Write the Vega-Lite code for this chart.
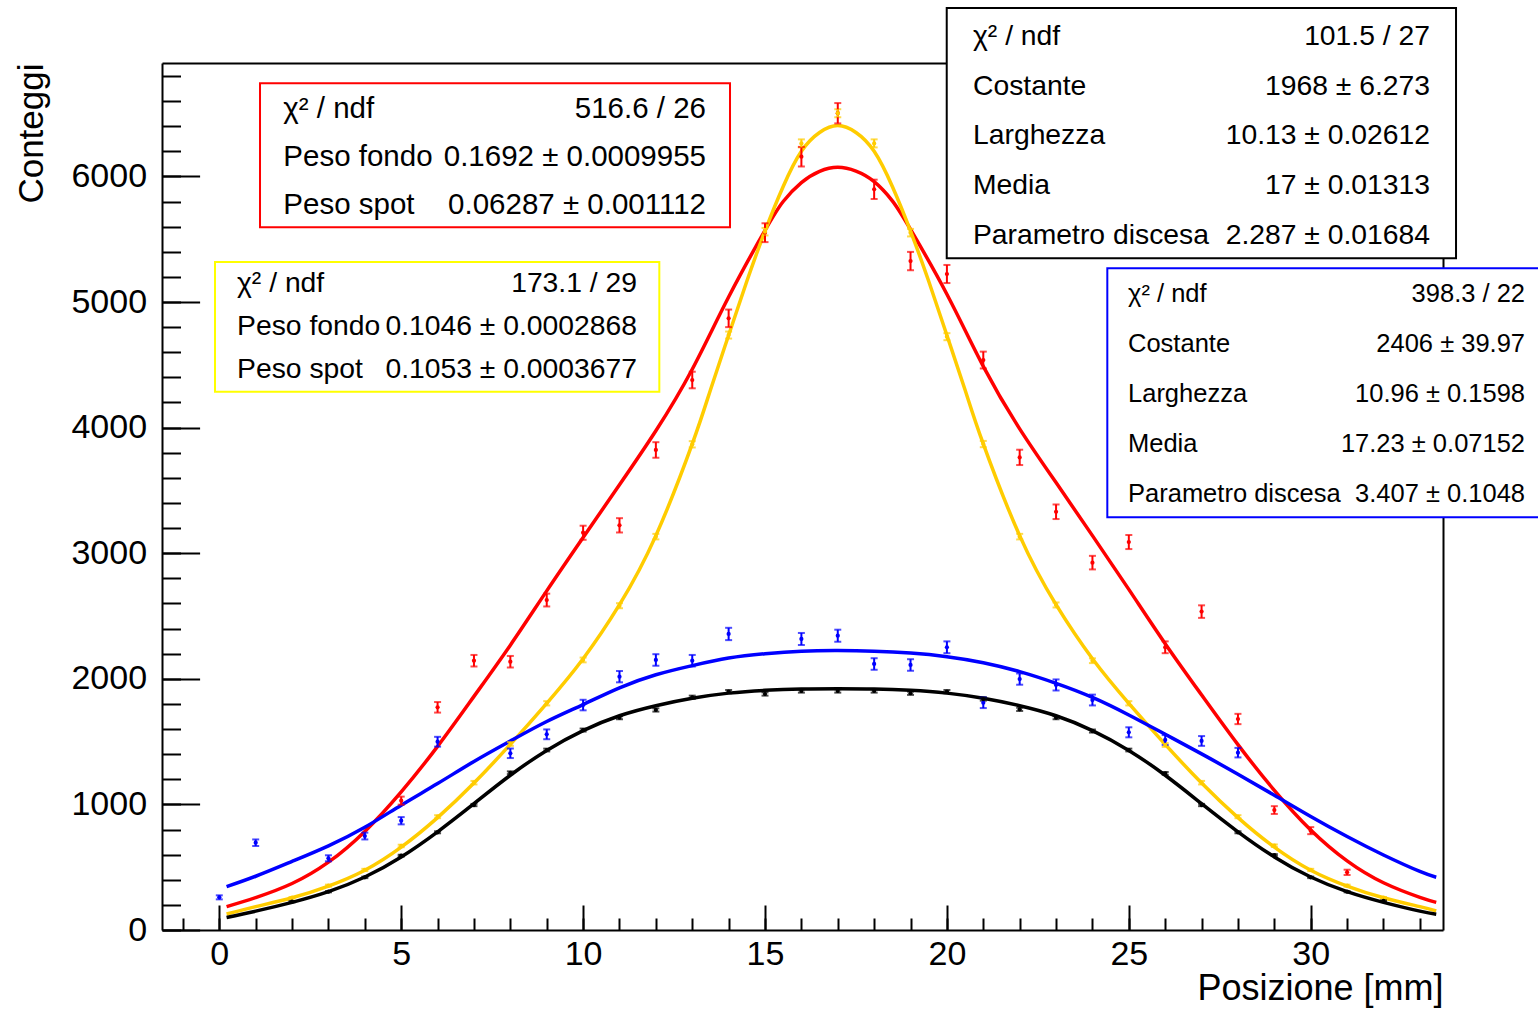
{
  "$schema": "https://vega.github.io/schema/vega-lite/v6.json",
  "width": 1281,
  "height": 867,
  "autosize": {"type": "none"},
  "padding": {"left": 162, "top": 63, "right": 95, "bottom": 79},
  "background": "white",
  "config": {
    "view": {"stroke": null},
    "font": "Liberation Sans",
    "axis": {"labelFont": "Liberation Sans", "titleFont": "Liberation Sans", "labelColor": "black", "titleColor": "black", "tickColor": "black", "domainColor": "black", "grid": false, "zindex": 0}
  },
  "datasets": {
    "fit": [
      {"s":"rosso","x":0.2,"y":186},{"s":"rosso","x":1,"y":258},{"s":"rosso","x":2,"y":370},{"s":"rosso","x":3,"y":540},{"s":"rosso","x":4,"y":785},{"s":"rosso","x":5,"y":1100},{"s":"rosso","x":6,"y":1462},{"s":"rosso","x":7,"y":1860},{"s":"rosso","x":8,"y":2268},{"s":"rosso","x":9,"y":2700},{"s":"rosso","x":10,"y":3125},{"s":"rosso","x":11,"y":3545},{"s":"rosso","x":12,"y":3975},{"s":"rosso","x":13,"y":4465},{"s":"rosso","x":14,"y":5040},{"s":"rosso","x":15,"y":5570},{"s":"rosso","x":15.5,"y":5800},{"s":"rosso","x":16,"y":5950},{"s":"rosso","x":16.5,"y":6040},{"s":"rosso","x":17,"y":6072},{"s":"rosso","x":17.5,"y":6042},{"s":"rosso","x":18,"y":5958},{"s":"rosso","x":18.5,"y":5805},{"s":"rosso","x":19,"y":5578},{"s":"rosso","x":20,"y":5062},{"s":"rosso","x":21,"y":4488},{"s":"rosso","x":22,"y":3990},{"s":"rosso","x":23,"y":3562},{"s":"rosso","x":24,"y":3140},{"s":"rosso","x":25,"y":2712},{"s":"rosso","x":26,"y":2280},{"s":"rosso","x":27,"y":1872},{"s":"rosso","x":28,"y":1476},{"s":"rosso","x":29,"y":1112},{"s":"rosso","x":30,"y":796},{"s":"rosso","x":31,"y":550},{"s":"rosso","x":32,"y":376},{"s":"rosso","x":33,"y":260},{"s":"rosso","x":33.45,"y":220},
      {"s":"giallo","x":0.2,"y":127},{"s":"giallo","x":1,"y":186},{"s":"giallo","x":2,"y":257},{"s":"giallo","x":3,"y":350},{"s":"giallo","x":4,"y":476},{"s":"giallo","x":5,"y":660},{"s":"giallo","x":6,"y":895},{"s":"giallo","x":7,"y":1170},{"s":"giallo","x":8,"y":1478},{"s":"giallo","x":9,"y":1805},{"s":"giallo","x":10,"y":2160},{"s":"giallo","x":11,"y":2590},{"s":"giallo","x":12,"y":3140},{"s":"giallo","x":13,"y":3870},{"s":"giallo","x":13.5,"y":4300},{"s":"giallo","x":14,"y":4735},{"s":"giallo","x":14.5,"y":5165},{"s":"giallo","x":15,"y":5565},{"s":"giallo","x":15.5,"y":5920},{"s":"giallo","x":16,"y":6200},{"s":"giallo","x":16.5,"y":6350},{"s":"giallo","x":17,"y":6405},{"s":"giallo","x":17.5,"y":6350},{"s":"giallo","x":18,"y":6200},{"s":"giallo","x":18.5,"y":5920},{"s":"giallo","x":19,"y":5565},{"s":"giallo","x":19.5,"y":5165},{"s":"giallo","x":20,"y":4735},{"s":"giallo","x":20.5,"y":4300},{"s":"giallo","x":21,"y":3870},{"s":"giallo","x":22,"y":3140},{"s":"giallo","x":23,"y":2590},{"s":"giallo","x":24,"y":2160},{"s":"giallo","x":25,"y":1805},{"s":"giallo","x":26,"y":1478},{"s":"giallo","x":27,"y":1170},{"s":"giallo","x":28,"y":895},{"s":"giallo","x":29,"y":660},{"s":"giallo","x":30,"y":476},{"s":"giallo","x":31,"y":350},{"s":"giallo","x":32,"y":257},{"s":"giallo","x":33,"y":186},{"s":"giallo","x":33.45,"y":152},
      {"s":"blu","x":0.2,"y":345},{"s":"blu","x":1,"y":428},{"s":"blu","x":2,"y":546},{"s":"blu","x":3,"y":670},{"s":"blu","x":4,"y":818},{"s":"blu","x":5,"y":994},{"s":"blu","x":6,"y":1166},{"s":"blu","x":7,"y":1342},{"s":"blu","x":8,"y":1505},{"s":"blu","x":9,"y":1660},{"s":"blu","x":10,"y":1795},{"s":"blu","x":11,"y":1928},{"s":"blu","x":12,"y":2032},{"s":"blu","x":13,"y":2105},{"s":"blu","x":14,"y":2165},{"s":"blu","x":15,"y":2200},{"s":"blu","x":16,"y":2220},{"s":"blu","x":17,"y":2225},{"s":"blu","x":18,"y":2220},{"s":"blu","x":19,"y":2205},{"s":"blu","x":20,"y":2176},{"s":"blu","x":21,"y":2128},{"s":"blu","x":22,"y":2057},{"s":"blu","x":23,"y":1964},{"s":"blu","x":24,"y":1852},{"s":"blu","x":25,"y":1712},{"s":"blu","x":26,"y":1558},{"s":"blu","x":27,"y":1402},{"s":"blu","x":28,"y":1240},{"s":"blu","x":29,"y":1073},{"s":"blu","x":30,"y":904},{"s":"blu","x":31,"y":744},{"s":"blu","x":32,"y":597},{"s":"blu","x":33,"y":466},{"s":"blu","x":33.45,"y":420},
      {"s":"nero","x":0.2,"y":100},{"s":"nero","x":1,"y":150},{"s":"nero","x":2,"y":220},{"s":"nero","x":3,"y":305},{"s":"nero","x":4,"y":422},{"s":"nero","x":5,"y":582},{"s":"nero","x":6,"y":782},{"s":"nero","x":7,"y":1006},{"s":"nero","x":8,"y":1232},{"s":"nero","x":9,"y":1430},{"s":"nero","x":10,"y":1588},{"s":"nero","x":11,"y":1706},{"s":"nero","x":12,"y":1786},{"s":"nero","x":13,"y":1845},{"s":"nero","x":14,"y":1886},{"s":"nero","x":15,"y":1908},{"s":"nero","x":16,"y":1918},{"s":"nero","x":17,"y":1920},{"s":"nero","x":18,"y":1918},{"s":"nero","x":19,"y":1908},{"s":"nero","x":20,"y":1886},{"s":"nero","x":21,"y":1845},{"s":"nero","x":22,"y":1786},{"s":"nero","x":23,"y":1706},{"s":"nero","x":24,"y":1588},{"s":"nero","x":25,"y":1430},{"s":"nero","x":26,"y":1232},{"s":"nero","x":27,"y":1006},{"s":"nero","x":28,"y":782},{"s":"nero","x":29,"y":582},{"s":"nero","x":30,"y":422},{"s":"nero","x":31,"y":305},{"s":"nero","x":32,"y":220},{"s":"nero","x":33,"y":150},{"s":"nero","x":33.45,"y":126}
    ],
    "pts": [
      {"s":"rosso","x":5,"y":1030,"e":32},{"s":"rosso","x":6,"y":1773,"e":42},{"s":"rosso","x":7,"y":2144,"e":46},{"s":"rosso","x":8,"y":2136,"e":46},{"s":"rosso","x":9,"y":2627,"e":51},{"s":"rosso","x":10,"y":3163,"e":56},{"s":"rosso","x":11,"y":3222,"e":57},{"s":"rosso","x":12,"y":3822,"e":62},{"s":"rosso","x":13,"y":4379,"e":66},{"s":"rosso","x":14,"y":4870,"e":70},{"s":"rosso","x":15,"y":5552,"e":75},{"s":"rosso","x":16,"y":6157,"e":78},{"s":"rosso","x":17,"y":6503,"e":81},{"s":"rosso","x":18,"y":5897,"e":77},{"s":"rosso","x":19,"y":5326,"e":73},{"s":"rosso","x":20,"y":5223,"e":72},{"s":"rosso","x":21,"y":4538,"e":67},{"s":"rosso","x":22,"y":3763,"e":61},{"s":"rosso","x":23,"y":3330,"e":58},{"s":"rosso","x":24,"y":2925,"e":54},{"s":"rosso","x":25,"y":3089,"e":56},{"s":"rosso","x":26,"y":2251,"e":47},{"s":"rosso","x":27,"y":2535,"e":50},{"s":"rosso","x":28,"y":1680,"e":41},{"s":"rosso","x":29,"y":955,"e":31},{"s":"rosso","x":30,"y":791,"e":28},{"s":"rosso","x":31,"y":459,"e":21},
      {"s":"giallo","x":2,"y":257,"e":6},{"s":"giallo","x":3,"y":353,"e":8},{"s":"giallo","x":4,"y":478,"e":9},{"s":"giallo","x":5,"y":669,"e":10},{"s":"giallo","x":6,"y":902,"e":12},{"s":"giallo","x":7,"y":1173,"e":14},{"s":"giallo","x":8,"y":1481,"e":15},{"s":"giallo","x":9,"y":1805,"e":17},{"s":"giallo","x":10,"y":2150,"e":19},{"s":"giallo","x":11,"y":2582,"e":20},{"s":"giallo","x":12,"y":3132,"e":22},{"s":"giallo","x":13,"y":3867,"e":25},{"s":"giallo","x":14,"y":4737,"e":28},{"s":"giallo","x":15,"y":5560,"e":30},{"s":"giallo","x":16,"y":6263,"e":32},{"s":"giallo","x":17,"y":6503,"e":32},{"s":"giallo","x":18,"y":6263,"e":32},{"s":"giallo","x":19,"y":5552,"e":30},{"s":"giallo","x":20,"y":4724,"e":28},{"s":"giallo","x":21,"y":3869,"e":25},{"s":"giallo","x":22,"y":3132,"e":22},{"s":"giallo","x":23,"y":2588,"e":20},{"s":"giallo","x":24,"y":2144,"e":19},{"s":"giallo","x":25,"y":1805,"e":17},{"s":"giallo","x":26,"y":1473,"e":15},{"s":"giallo","x":27,"y":1173,"e":14},{"s":"giallo","x":28,"y":902,"e":12},{"s":"giallo","x":29,"y":671,"e":10},{"s":"giallo","x":30,"y":478,"e":9},{"s":"giallo","x":31,"y":353,"e":8},{"s":"giallo","x":32,"y":257,"e":6},
      {"s":"blu","x":0,"y":260,"e":16},{"s":"blu","x":1,"y":695,"e":26},{"s":"blu","x":3,"y":571,"e":24},{"s":"blu","x":4,"y":748,"e":27},{"s":"blu","x":5,"y":870,"e":29},{"s":"blu","x":6,"y":1499,"e":39},{"s":"blu","x":8,"y":1407,"e":38},{"s":"blu","x":9,"y":1558,"e":39},{"s":"blu","x":10,"y":1791,"e":42},{"s":"blu","x":11,"y":2017,"e":45},{"s":"blu","x":12,"y":2150,"e":46},{"s":"blu","x":13,"y":2144,"e":46},{"s":"blu","x":14,"y":2357,"e":49},{"s":"blu","x":16,"y":2317,"e":48},{"s":"blu","x":17,"y":2343,"e":48},{"s":"blu","x":18,"y":2118,"e":46},{"s":"blu","x":19,"y":2110,"e":46},{"s":"blu","x":20,"y":2251,"e":47},{"s":"blu","x":21,"y":1810,"e":43},{"s":"blu","x":22,"y":1998,"e":45},{"s":"blu","x":23,"y":1951,"e":44},{"s":"blu","x":24,"y":1831,"e":43},{"s":"blu","x":25,"y":1574,"e":40},{"s":"blu","x":26,"y":1513,"e":39},{"s":"blu","x":27,"y":1505,"e":39},{"s":"blu","x":28,"y":1412,"e":38},
      {"s":"nero","x":2,"y":225,"e":5},{"s":"nero","x":3,"y":305,"e":5},{"s":"nero","x":4,"y":419,"e":6},{"s":"nero","x":5,"y":592,"e":7},{"s":"nero","x":6,"y":778,"e":8},{"s":"nero","x":7,"y":995,"e":9},{"s":"nero","x":8,"y":1252,"e":11},{"s":"nero","x":9,"y":1433,"e":11},{"s":"nero","x":10,"y":1592,"e":12},{"s":"nero","x":11,"y":1690,"e":12},{"s":"nero","x":12,"y":1752,"e":13},{"s":"nero","x":13,"y":1853,"e":13},{"s":"nero","x":14,"y":1898,"e":13},{"s":"nero","x":15,"y":1879,"e":13},{"s":"nero","x":16,"y":1903,"e":13},{"s":"nero","x":17,"y":1903,"e":13},{"s":"nero","x":18,"y":1903,"e":13},{"s":"nero","x":19,"y":1885,"e":13},{"s":"nero","x":20,"y":1898,"e":13},{"s":"nero","x":21,"y":1839,"e":13},{"s":"nero","x":22,"y":1757,"e":13},{"s":"nero","x":23,"y":1690,"e":12},{"s":"nero","x":24,"y":1584,"e":12},{"s":"nero","x":25,"y":1433,"e":11},{"s":"nero","x":26,"y":1247,"e":11},{"s":"nero","x":27,"y":995,"e":9},{"s":"nero","x":28,"y":778,"e":8},{"s":"nero","x":29,"y":597,"e":7},{"s":"nero","x":30,"y":419,"e":6},{"s":"nero","x":31,"y":305,"e":5},{"s":"nero","x":32,"y":231,"e":5}
    ]
  },
  "resolve": {"axis": {"x": "independent", "y": "independent"}},
  "layer": [
    {
      "data": {"name": "fit"},
      "mark": {"type": "line", "interpolate": "natural", "strokeWidth": 3.5},
      "encoding": {
        "x": {"field": "x", "type": "quantitative", "scale": {"domain": [-1.575, 33.636], "nice": false, "zero": false},
          "axis": {"orient": "bottom", "values": [0,5,10,15,20,25,30], "format": "d", "tickSize": -25, "tickWidth": 2, "domain": true, "domainWidth": 2, "labelFontSize": 34, "labelPadding": 32, "labelFlush": false, "labelOverlap": false, "grid": false,
            "title": "Posizione [mm]", "titleFontSize": 36, "titleFontWeight": "normal", "titleAnchor": "end", "titleAlign": "right", "titleBaseline": "alphabetic", "titleX": 1281, "titleY": 69, "zindex": 0}},
        "y": {"field": "y", "type": "quantitative", "scale": {"domain": [0, 6903], "nice": false, "zero": false},
          "axis": {"orient": "left", "values": [0,1000,2000,3000,4000,5000,6000], "format": "d", "tickSize": -37.6, "tickWidth": 2, "domain": true, "domainWidth": 2, "labelFontSize": 34, "labelPadding": 53, "labelFlush": false, "labelOverlap": false, "grid": false,
            "title": "Conteggi", "titleFontSize": 35, "titleFontWeight": "normal", "titleAngle": 270, "titleAnchor": "end", "titleAlign": "right", "titleBaseline": "alphabetic", "titleX": -120, "titleY": 0, "zindex": 0}},
        "color": {"field": "s", "type": "nominal", "scale": {"domain": ["rosso","giallo","blu","nero"], "range": ["#ff0000","#ffcc00","#0000ff","#000000"]}, "legend": null}
      }
    },
    {
      "data": {"name": "pts"},
      "mark": {"type": "errorbar", "ticks": {"size": 7, "thickness": 2}, "thickness": 2},
      "encoding": {
        "x": {"field": "x", "type": "quantitative",
          "axis": {"orient": "bottom", "values": [-1,0,1,2,3,4,5,6,7,8,9,10,11,12,13,14,15,16,17,18,19,20,21,22,23,24,25,26,27,28,29,30,31,32,33], "tickSize": -12, "tickWidth": 2, "labels": false, "domain": false, "grid": false, "title": null, "zindex": 0}},
        "y": {"field": "y", "type": "quantitative",
          "axis": {"orient": "left", "values": [0,200,400,600,800,1000,1200,1400,1600,1800,2000,2200,2400,2600,2800,3000,3200,3400,3600,3800,4000,4200,4400,4600,4800,5000,5200,5400,5600,5800,6000,6200,6400,6600,6800], "tickSize": -18.5, "tickWidth": 2, "labels": false, "domain": false, "grid": false, "title": null, "zindex": 0}},
        "yError": {"field": "e"},
        "color": {"field": "s", "type": "nominal", "legend": null}
      }
    },
    {
      "data": {"name": "pts"},
      "mark": {"type": "point", "filled": true, "size": 18, "opacity": 1},
      "encoding": {
        "x": {"field": "x", "type": "quantitative", "axis": {"orient": "top", "ticks": false, "labels": false, "domain": true, "domainWidth": 2, "grid": false, "title": null, "zindex": 0}},
        "y": {"field": "y", "type": "quantitative", "axis": {"orient": "right", "ticks": false, "labels": false, "domain": true, "domainWidth": 2, "grid": false, "title": null, "zindex": 0}},
        "color": {"field": "s", "type": "nominal", "legend": null}
      }
    },
    {
      "data": {"values": [{}]},
      "mark": {"type": "rect", "fill": "white", "stroke": "#ff0000", "strokeWidth": 2},
      "encoding": {"x": {"datum": 1.119, "type": "quantitative", "axis": null}, "x2": {"datum": 14.038}, "y": {"datum": 6741, "type": "quantitative", "axis": null}, "y2": {"datum": 5595}}
    },
    {
      "data": {"values": [{}]},
      "mark": {"type": "text", "font": "Liberation Sans", "fontSize": 29.5, "align": "left", "baseline": "alphabetic", "lineHeight": 48.3, "color": "black", "text": ["χ² / ndf", "Peso fondo", "Peso spot"]},
      "encoding": {"x": {"datum": 1.759, "type": "quantitative", "axis": null}, "y": {"datum": 6467, "type": "quantitative", "axis": null}}
    },
    {
      "data": {"values": [{}]},
      "mark": {"type": "text", "font": "Liberation Sans", "fontSize": 29.5, "align": "right", "baseline": "alphabetic", "lineHeight": 48.3, "color": "black", "text": ["516.6 / 26", "0.1692 ± 0.0009955", "0.06287 ± 0.001112"]},
      "encoding": {"x": {"datum": 13.378, "type": "quantitative", "axis": null}, "y": {"datum": 6467, "type": "quantitative", "axis": null}}
    },
    {
      "data": {"values": [{}]},
      "mark": {"type": "rect", "fill": "white", "stroke": "#ffff00", "strokeWidth": 2},
      "encoding": {"x": {"datum": -0.118, "type": "quantitative", "axis": null}, "x2": {"datum": 12.095}, "y": {"datum": 5318, "type": "quantitative", "axis": null}, "y2": {"datum": 4286}}
    },
    {
      "data": {"values": [{}]},
      "mark": {"type": "text", "font": "Liberation Sans", "fontSize": 28.3, "align": "left", "baseline": "alphabetic", "lineHeight": 42.8, "color": "black", "text": ["χ² / ndf", "Peso fondo", "Peso spot"]},
      "encoding": {"x": {"datum": 0.487, "type": "quantitative", "axis": null}, "y": {"datum": 5080, "type": "quantitative", "axis": null}}
    },
    {
      "data": {"values": [{}]},
      "mark": {"type": "text", "font": "Liberation Sans", "fontSize": 28.3, "align": "right", "baseline": "alphabetic", "lineHeight": 42.8, "color": "black", "text": ["173.1 / 29", "0.1046 ± 0.0002868", "0.1053 ± 0.0003677"]},
      "encoding": {"x": {"datum": 11.482, "type": "quantitative", "axis": null}, "y": {"datum": 5080, "type": "quantitative", "axis": null}}
    },
    {
      "data": {"values": [{}]},
      "mark": {"type": "rect", "fill": "white", "stroke": "#000000", "strokeWidth": 2},
      "encoding": {"x": {"datum": 19.995, "type": "quantitative", "axis": null}, "x2": {"datum": 33.994}, "y": {"datum": 7341, "type": "quantitative", "axis": null}, "y2": {"datum": 5348}}
    },
    {
      "data": {"values": [{}]},
      "mark": {"type": "text", "font": "Liberation Sans", "fontSize": 28.3, "align": "left", "baseline": "alphabetic", "lineHeight": 49.7, "color": "black", "text": ["χ² / ndf", "Costante", "Larghezza", "Media", "Parametro discesa"]},
      "encoding": {"x": {"datum": 20.717, "type": "quantitative", "axis": null}, "y": {"datum": 7046, "type": "quantitative", "axis": null}}
    },
    {
      "data": {"values": [{}]},
      "mark": {"type": "text", "font": "Liberation Sans", "fontSize": 28.3, "align": "right", "baseline": "alphabetic", "lineHeight": 49.7, "color": "black", "text": ["101.5 / 27", "1968 ± 6.273", "10.13 ± 0.02612", "17 ± 0.01313", "2.287 ± 0.01684"]},
      "encoding": {"x": {"datum": 33.279, "type": "quantitative", "axis": null}, "y": {"datum": 7046, "type": "quantitative", "axis": null}}
    },
    {
      "data": {"values": [{}]},
      "mark": {"type": "rect", "fill": "white", "stroke": "#0000ff", "strokeWidth": 2},
      "encoding": {"x": {"datum": 24.409, "type": "quantitative", "axis": null}, "x2": {"datum": 36.5}, "y": {"datum": 5268, "type": "quantitative", "axis": null}, "y2": {"datum": 3286}}
    },
    {
      "data": {"values": [{}]},
      "mark": {"type": "text", "font": "Liberation Sans", "fontSize": 25.5, "align": "left", "baseline": "alphabetic", "lineHeight": 50.2, "color": "black", "text": ["χ² / ndf", "Costante", "Larghezza", "Media", "Parametro discesa"]},
      "encoding": {"x": {"datum": 24.978, "type": "quantitative", "axis": null}, "y": {"datum": 5004, "type": "quantitative", "axis": null}}
    },
    {
      "data": {"values": [{}]},
      "mark": {"type": "text", "font": "Liberation Sans", "fontSize": 25.5, "align": "right", "baseline": "alphabetic", "lineHeight": 50.2, "color": "black", "text": ["398.3 / 22", "2406 ± 39.97", "10.96 ± 0.1598", "17.23 ± 0.07152", "3.407 ± 0.1048"]},
      "encoding": {"x": {"datum": 35.891, "type": "quantitative", "axis": null}, "y": {"datum": 5004, "type": "quantitative", "axis": null}}
    }
  ]
}
